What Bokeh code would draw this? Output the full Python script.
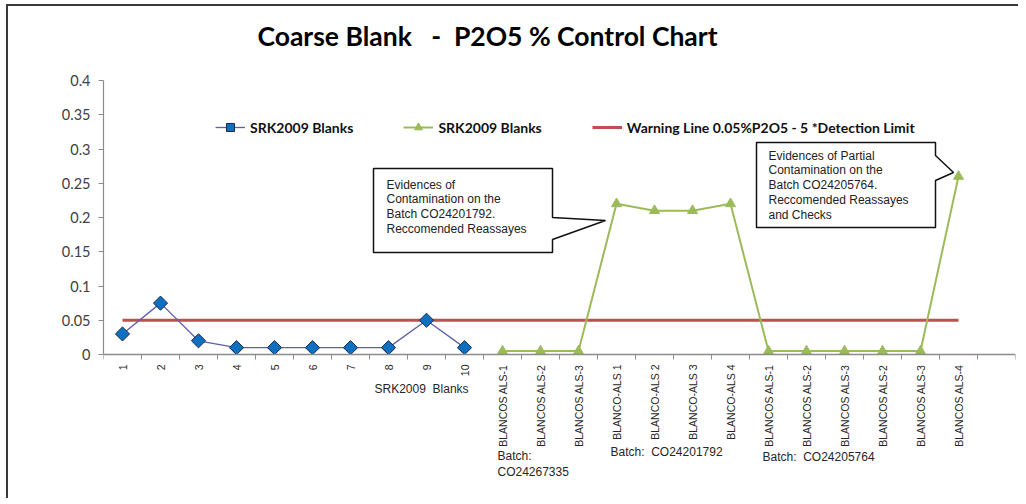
import math
from bokeh.plotting import figure
from bokeh.models import (Range1d, FixedTicker, CustomJSTickFormatter, Legend, LegendItem,
                          ColumnDataSource)
from bokeh.embed import file_html
from bokeh.resources import INLINE
from bokeh.core.properties import value

# ---------------- data ----------------
categories = ["1", "2", "3", "4", "5", "6", "7", "8", "9", "10",
              "BLANCOS ALS-1", "BLANCOS ALS-2", "BLANCOS ALS-3",
              "BLANCO-ALS 1", "BLANCO-ALS 2", "BLANCO-ALS 3", "BLANCO-ALS 4",
              "BLANCOS ALS-1", "BLANCOS ALS-2", "BLANCOS ALS-3",
              "BLANCOS ALS-2", "BLANCOS ALS-3", "BLANCOS ALS-4"]
srk_pos = [1, 2, 3, 4, 5, 6, 7, 8, 9, 10]
srk_values = [0.03, 0.075, 0.02, 0.01, 0.01, 0.01, 0.01, 0.01, 0.05, 0.01]
als_pos = [11, 12, 13, 14, 15, 16, 17, 18, 19, 20, 21, 22, 23]
als_values = [0.005, 0.005, 0.005, 0.22, 0.21, 0.21, 0.22,
              0.005, 0.005, 0.005, 0.005, 0.005, 0.26]
warn_pos = [1, 2, 3, 4, 5, 6, 7, 8, 9, 10, 11, 12, 13, 14, 15, 16, 17, 18, 19, 20, 21, 22, 23]
warn_values = [0.05, 0.05, 0.05, 0.05, 0.05, 0.05, 0.05, 0.05, 0.05, 0.05, 0.05, 0.05,
               0.05, 0.05, 0.05, 0.05, 0.05, 0.05, 0.05, 0.05, 0.05, 0.05, 0.05]
y_ticks = [0, 0.05, 0.1, 0.15, 0.2, 0.25, 0.3, 0.35, 0.4]
series_labels = ["SRK2009 Blanks", "SRK2009 Blanks", "Warning Line 0.05%P2O5 - 5 *Detection Limit"]
title_text = "Coarse Blank\u00a0\u00a0\u00a0-\u00a0\u00a0P2O5 % Control Chart"
callout1_text = "Evidences of\nContamination  on the\nBatch CO24201792.\nReccomended  Reassayes"
callout2_text = "Evidences of Partial\nContamination  on the\nBatch CO24205764.\nReccomended  Reassayes\nand Checks"
group_label = "SRK2009\u00a0\u00a0Blanks"
batch_labels = ["Batch:", "CO24267335", "Batch:\u00a0\u00a0CO24201792", "Batch:\u00a0\u00a0CO24205764"]

BLUE_LINE = "#5F5FA8"
BLUE_FILL = "#0F6FC0"
GREEN = "#9BBB59"
RED = "#C0504D"
AXIS_GREY = "#8C8C8C"
TXT = "#262626"
ARIAL = value("Liberation Sans")

# page offsets of the figure content (chart border drawn by CSS)
OX, OY = 8, 6
W, H = 1012, 494
FRAME_L, FRAME_R = 103 - OX, 1015 - OX
ZERO_PX, PX_PER_UNIT_Y = 354 - OY, 685.0

y_top = ZERO_PX / PX_PER_UNIT_Y
y_bottom = -(H - ZERO_PX) / PX_PER_UNIT_Y

p = figure(width=W, height=H, output_backend="svg", toolbar_location=None,
           x_range=Range1d(0.5, 24.5), y_range=Range1d(y_bottom, y_top),
           min_border_left=FRAME_L, min_border_right=W - FRAME_R,
           min_border_top=0, min_border_bottom=0)
p.styles = {"margin-left": "6px", "margin-top": "4px",
            "border-left": "2px solid #3a3a3a", "border-top": "2px solid #3a3a3a",
            "border-right": "0px none", "border-bottom": "0px none", "outline": "none"}
p.outline_line_color = None
p.xgrid.grid_line_color = None
p.ygrid.grid_line_color = None
p.background_fill_color = "white"
p.border_fill_color = "white"

# x axis drawn at y = 0 inside the frame
xa = p.xaxis[0]
xa.fixed_location = 0
xa.ticker = FixedTicker(ticks=list(range(1, len(categories) + 1)),
                        minor_ticks=[i + 0.5 for i in range(0, 25)])
xa.formatter = CustomJSTickFormatter(args=dict(labels=categories),
                                     code="const i = Math.round(tick) - 1; return (i >= 0 && i < labels.length) ? labels[i] : '';")
xa.major_label_orientation = math.pi / 2
xa.major_tick_out = 0
xa.major_tick_in = 0
xa.minor_tick_out = 5
xa.minor_tick_in = 0
xa.minor_tick_line_color = AXIS_GREY
xa.axis_line_color = AXIS_GREY
xa.axis_line_width = 1.5
xa.major_label_standoff = 5
xa.major_label_text_font = "Liberation Sans"
xa.major_label_text_font_size = "10.5px"
xa.major_label_text_color = TXT

# y axis
ya = p.yaxis[0]
ya.bounds = (0, 0.4)
ya.ticker = FixedTicker(ticks=y_ticks, minor_ticks=[])
ya.formatter = CustomJSTickFormatter(code="return tick.toFixed(2).replace(/\\.?0+$/, '');")
ya.major_tick_out = 5
ya.major_tick_in = 0
ya.major_tick_line_color = AXIS_GREY
ya.axis_line_color = AXIS_GREY
ya.axis_line_width = 1.2
ya.major_label_standoff = 8
ya.major_label_text_font = "Lato"
ya.major_label_text_font_size = "14.5px"
ya.major_label_text_color = "#404040"

# series
srk_src = ColumnDataSource(dict(x=srk_pos, y=srk_values,
                                angle=[math.pi / 4 for _ in srk_pos]))
r_warn = p.line(warn_pos, warn_values, line_color=RED, line_width=3)
r_srk_line = p.line("x", "y", source=srk_src, line_color=BLUE_LINE, line_width=1.3)
r_srk_pts = p.scatter("x", "y", source=srk_src, marker="square", angle="angle", size=10,
                      fill_color=BLUE_FILL, line_color="#1C2A4A", line_width=1)
r_als_line = p.line(als_pos, als_values, line_color=GREEN, line_width=2)
r_als_pts = p.scatter(als_pos, als_values, marker="triangle", size=10,
                      fill_color=GREEN, line_color=GREEN)

legend = Legend(items=[LegendItem(label=series_labels[0], renderers=[r_srk_line, r_srk_pts], index=0),
                       LegendItem(label=series_labels[1], renderers=[r_als_line, r_als_pts]),
                       LegendItem(label=series_labels[2], renderers=[r_warn])],
                orientation="horizontal", location=(112, H - (137 - OY)), padding=0, margin=0,
                spacing=50, glyph_width=30, glyph_height=20, label_standoff=5,
                border_line_color=None, background_fill_alpha=0,
                label_text_font="Lato", label_text_font_style="bold",
                label_text_font_size="14px", label_text_color="#111111")
p.add_layout(legend, "center")


def px_x(px):
    return (px - OX - FRAME_L) / 38.0 + 0.5


def px_y(py):
    return (ZERO_PX - (py - OY)) / PX_PER_UNIT_Y


# callouts
c1x = [px_x(v) for v in (373, 552, 552, 605, 552, 552, 373)]
c1y = [px_y(v) for v in (168, 168, 217, 220, 239, 252, 252)]
c2x = [px_x(v) for v in (756, 935, 935, 953, 935, 935, 756)]
c2y = [px_y(v) for v in (142, 142, 155, 172, 180, 227, 227)]
p.patch(c1x, c1y, fill_color="white", line_color="#111111", line_width=1.5)
p.patch(c2x, c2y, fill_color="white", line_color="#111111", line_width=1.5)

p.text(x=[px_x(386), px_x(768)], y=[px_y(177), px_y(148)],
       text=[callout1_text, callout2_text], text_font=ARIAL, text_font_size="12px",
       text_color="#222222", text_baseline="top", text_align="left", text_line_height=1.06)

# title
p.text(x=[px_x(487)], y=[px_y(35)], text=[title_text], text_font=value("Lato"),
       text_font_style="bold", text_font_size="26.5px", text_color="#000000",
       text_align="center", text_baseline="middle")

# axis annotations
p.text(x=[px_x(374), px_x(497), px_x(497), px_x(610), px_x(762)],
       y=[px_y(388), px_y(455), px_y(471), px_y(451), px_y(456)],
       text=[group_label] + batch_labels,
       text_font=ARIAL, text_font_size="12px", text_color=TXT,
       text_align="left", text_baseline="middle")

open("out.html", "w").write(file_html(p, INLINE))
